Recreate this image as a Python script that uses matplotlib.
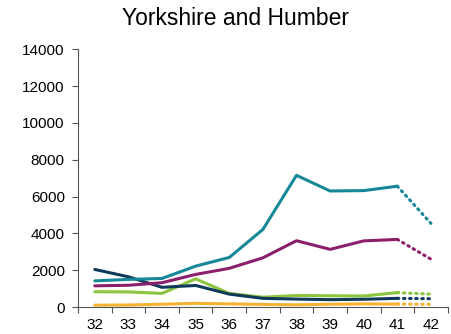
import numpy as np
import matplotlib.pyplot as plt

plt.rcParams['font.family'] = ['Liberation Sans', 'DejaVu Sans']

weeks = ['32', '33', '34', '35', '36', '37', '38', '39', '40', '41', '42']

teal = [1420, 1500, 1550, 2220, 2690, 4210, 7150, 6300, 6320, 6560, 4540]
purple = [1150, 1180, 1320, 1770, 2100, 2670, 3600, 3130, 3590, 3670, 2600]
green = [830, 820, 740, 1530, 740, 530, 630, 610, 600, 780, 700]
navy = [2040, 1640, 1070, 1170, 700, 470, 430, 400, 420, 470, 450]
orange = [100, 110, 150, 200, 170, 140, 120, 150, 170, 160, 150]

series = [
    (orange, '#f6b331'),
    (green, '#8dc43f'),
    (navy, '#103a5a'),
    (purple, '#8b1f6b'),
    (teal, '#168898'),
]

fig = plt.figure(figsize=(4.52, 3.34), dpi=100)
ax = fig.add_axes([0.1726, 0.0808, 0.818, 0.772])

x = np.arange(len(weeks))
for vals, col in series:
    # solid up to 41, dotted projection to 42
    ax.plot(x[:-1], vals[:-1], color=col, lw=2.2, solid_capstyle='round')
    ax.plot(x[-2:], vals[-2:], color=col, lw=2.2, linestyle=(0, (0.5, 1.5)),
            dash_capstyle='round')

ax.set_xlim(-0.5, len(weeks) - 0.5)
ax.set_ylim(0, 14000)
ax.set_yticks(np.arange(0, 14001, 2000))
ax.set_xticks(x)
ax.set_xticklabels(weeks)
ax.set_xticks(np.arange(-0.5, len(weeks), 1), minor=True)
ax.tick_params(axis='x', which='major', length=0, labelsize=11, pad=8)
ax.tick_params(axis='x', which='minor', length=4, width=0.8, color='#555555')
ax.tick_params(axis='y', length=4, width=0.8, color='#555555', labelsize=11, pad=5.5)

for s in ['top', 'right']:
    ax.spines[s].set_visible(False)
for s in ['left', 'bottom']:
    ax.spines[s].set_color('#555555')
    ax.spines[s].set_linewidth(0.8)

fig.text(0.52, 0.946, 'Yorkshire and Humber', ha='center', va='center', fontsize=16.5)

fig.savefig('out.png', dpi=100)
